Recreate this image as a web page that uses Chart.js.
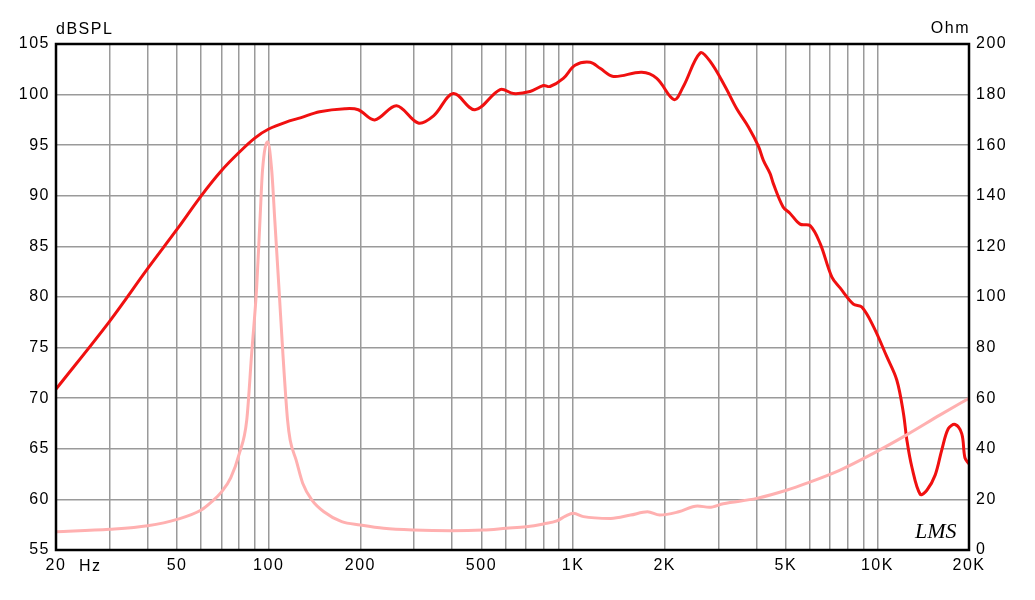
<!DOCTYPE html>
<html>
<head>
<meta charset="utf-8">
<script src="https://cdn.jsdelivr.net/npm/chart.js@4"></script>
<style>
  html, body { margin: 0; background: #fff; }
</style>
</head>
<body>
<canvas id="chart" width="1035" height="600"></canvas>
<script>
// SPL response (dB)
const splFreq = [20, 30, 40, 50, 60, 70, 80, 90, 100, 117, 127, 147, 178, 197, 223, 263, 310, 348, 404, 476,
  576, 637, 722, 799, 840, 929, 1015, 1138, 1227, 1357, 1682, 1884, 2148, 2304, 2614, 2818, 3159, 3450, 3769,
  4064, 4221, 4441, 4551, 4900, 5150, 5572, 6011, 6483, 7080, 7543, 8337, 8888, 9700, 10740, 11580, 12180,
  12480, 12980, 13830, 14540, 15480, 16280, 17110, 18000, 18930, 19400, 20000];
const splDb = [70.9, 77.6, 82.8, 86.7, 90.0, 92.5, 94.3, 95.7, 96.6, 97.4, 97.7, 98.3, 98.6, 98.5, 97.5, 98.9, 97.2, 97.9, 100.1, 98.5,
  100.5, 100.1, 100.3, 100.9, 100.8, 101.6, 102.9, 103.2, 102.6, 101.8, 102.2, 101.6, 99.5, 100.8, 104.1, 103.3, 100.8, 98.6, 96.8,
  94.9, 93.5, 92.2, 91.2, 88.9, 88.3, 87.2, 87.05, 85.3, 82.0, 80.9, 79.3, 79.0, 77.1, 74.1, 71.8, 68.5,
  66.0, 63.2, 60.5, 60.9, 62.4, 64.9, 67.0, 67.4, 66.5, 64.1, 63.5];

// impedance (Ohm)
const impFreq = [20, 30, 40, 50, 60, 65, 70, 75, 80, 84.7, 87.9, 91.3, 93.6, 95.4, 99.2, 102.3, 104.7, 108, 111.3, 115.3,
  117.6, 123, 129.3, 138.5, 151.8, 173.7, 200, 238.6, 298.5, 399, 507, 603, 701, 799, 885, 944, 1003, 1082,
  1330, 1546, 1757, 1927, 2224, 2564, 2805, 3114, 4016, 5054, 5864, 7543, 9700, 12480, 16080, 20000];
const impOhm = [7.2, 8.2, 9.6, 12.1, 15.8, 19.1, 23.0, 28.5, 38.0, 51.4, 77.7, 104, 130.4, 150, 161.4, 150, 130.4, 104, 77.7, 51.4,
  43.5, 35.6, 26.4, 19.8, 15.1, 11.2, 9.9, 8.6, 7.9, 7.6, 7.9, 8.6, 9.2, 10.3, 11.5, 13.4, 14.5, 13.2,
  12.5, 13.8, 15.1, 13.8, 15.1, 17.4, 16.9, 18.3, 20.4, 23.7, 26.4, 31.6, 38.2, 45.5, 53.4, 60.0];

const freqTicks = [20, 30, 40, 50, 60, 70, 80, 90, 100, 200, 300, 400, 500, 600, 700, 800, 900,
  1000, 2000, 3000, 4000, 5000, 6000, 7000, 8000, 9000, 10000, 20000];
const freqLabels = { 20: '20', 50: '50', 100: '100', 200: '200', 500: '500', 1000: '1K',
  2000: '2K', 5000: '5K', 10000: '10K', 20000: '20K' };

const toPoints = (xs, ys) => xs.map((x, i) => ({ x: x, y: ys[i] }));

const FONT = '"Liberation Sans", Arial, Helvetica, sans-serif';
const tickFont = { family: FONT, size: 16 };

const decor = {
  id: 'decor',
  beforeDraw(chart) {
    chart.ctx.letterSpacing = '1.5px';
  },
  afterDraw(chart) {
    const { ctx, chartArea: a } = chart;
    ctx.save();
    ctx.strokeStyle = '#000';
    ctx.lineWidth = 2.5;
    ctx.strokeRect(a.left, a.top, a.right - a.left, a.bottom - a.top);

    ctx.fillStyle = '#000';
    ctx.font = '16px ' + FONT;
    ctx.letterSpacing = '1.5px';
    ctx.textBaseline = 'alphabetic';
    ctx.textAlign = 'left';
    ctx.fillText('dBSPL', a.left, 34);
    ctx.fillText('Hz', 79, 571);
    ctx.textAlign = 'right';
    ctx.fillText('Ohm', a.right + 1, 33);

    ctx.letterSpacing = '0px';
    ctx.font = 'italic 22px "Liberation Serif", serif';
    ctx.textAlign = 'left';
    ctx.fillText('LMS', 915, 538);
    ctx.restore();
  }
};

new Chart(document.getElementById('chart'), {
  type: 'line',
  data: {
    datasets: [
      {
        label: 'Impedance',
        data: toPoints(impFreq, impOhm),
        yAxisID: 'y2',
        borderColor: 'rgb(255, 176, 176)',
        borderWidth: 3,
        pointRadius: 0,
        cubicInterpolationMode: 'monotone',
        fill: false
      },
      {
        label: 'SPL',
        data: toPoints(splFreq, splDb),
        yAxisID: 'y',
        borderColor: 'rgb(240, 16, 16)',
        borderWidth: 3,
        pointRadius: 0,
        tension: 0.35,
        fill: false
      }
    ]
  },
  options: {
    responsive: false,
    animation: false,
    devicePixelRatio: 1,
    layout: { padding: { top: 44, left: 0, right: 0, bottom: 0 } },
    plugins: {
      legend: { display: false },
      tooltip: { enabled: false }
    },
    scales: {
      x: {
        type: 'logarithmic',
        min: 20,
        max: 20000,
        afterBuildTicks: (scale) => {
          scale.ticks = freqTicks.map(v => ({ value: v }));
        },
        afterFit: (scale) => { scale.height = 50; },
        border: { display: false },
        grid: { color: '#9a9a9a', lineWidth: 1.5, drawTicks: false },
        ticks: {
          autoSkip: false,
          maxRotation: 0,
          padding: 6,
          color: '#000',
          font: tickFont,
          callback: (v) => freqLabels[v] || ''
        }
      },
      y: {
        position: 'left',
        min: 55,
        max: 105,
        afterFit: (scale) => { scale.width = 56; },
        border: { display: false },
        grid: { color: '#9a9a9a', lineWidth: 1.5, drawTicks: false },
        ticks: { stepSize: 5, padding: 6, color: '#000', font: tickFont }
      },
      y2: {
        position: 'right',
        min: 0,
        max: 200,
        afterFit: (scale) => { scale.width = 66; },
        border: { display: false },
        grid: { display: false, drawTicks: false },
        ticks: { stepSize: 20, padding: 7, color: '#000', font: tickFont }
      }
    }
  },
  plugins: [decor]
});
</script>
</body>
</html>
